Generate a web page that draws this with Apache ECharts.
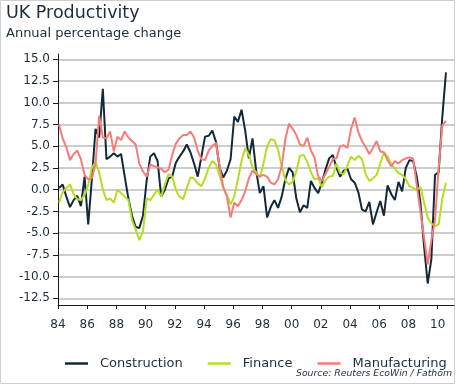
<!DOCTYPE html>
<html><head><meta charset="utf-8">
<script src="https://cdn.jsdelivr.net/npm/echarts@6/dist/echarts.min.js"></script>
<style>html,body{margin:0;padding:0;background:#fff}#c{width:459px;height:384px}</style>
</head><body><div id="c"></div>
<script>
// Quarterly observations, first point early 1984
const firstPointYear = 1984.07;
const pointStep = 0.25;

const construction = [
  0.2,0.6,-0.8,-2.0,-1.2,-0.7,-1.9,1.5,-4.0,1.2,
  7.0,6.0,11.6,3.5,3.8,4.2,3.8,4.1,1.5,-1.0,
  -3.0,-4.3,-4.4,-3.0,1.0,3.8,4.2,3.3,-0.8,0.0,
  1.3,1.5,3.1,3.8,4.4,5.2,4.3,3.0,1.5,3.8,
  6.1,6.2,6.8,5.5,2.5,1.4,2.2,3.5,8.4,7.8,
  9.2,6.8,3.6,5.9,2.2,-0.4,0.4,-3.2,-2.0,-1.2,
  -2.1,-0.8,1.2,2.5,2.0,-1.0,-2.6,-1.8,-2.1,1.0,
  0.2,-0.4,0.8,2.3,3.6,4.0,2.5,1.5,2.2,2.4,
  1.2,0.8,-0.3,-2.3,-2.5,-1.4,-4.0,-2.6,-1.3,-3.0,
  0.5,-0.5,-1.2,0.9,-0.2,2.5,3.4,3.3,1.5,-1.5,
  -6.5,-10.8,-8.0,1.7,2.0,8.4,13.5
];
const finance = [
  -1.5,-0.3,0.2,0.6,-0.5,-1.1,-1.2,-0.6,0.5,2.5,
  3.2,2.0,0.0,-1.2,-1.0,-1.5,0.0,-0.4,-0.8,-1.2,
  -3.5,-4.6,-5.8,-4.8,-1.0,-1.2,-0.6,0.0,-0.8,0.6,
  1.8,1.5,0.0,-0.8,-1.1,0.2,1.4,1.3,0.7,0.4,
  1.3,2.5,3.3,2.9,1.6,0.2,-0.6,-1.7,-0.8,1.2,
  3.3,4.8,4.0,2.6,2.0,1.4,3.0,5.0,5.8,5.7,
  4.6,2.7,1.1,0.6,0.9,2.1,3.9,4.0,3.2,2.0,
  1.2,1.3,0.3,1.1,1.5,1.6,3.0,1.9,1.8,2.8,
  3.8,3.4,3.9,3.5,1.8,1.0,1.3,1.7,3.0,4.3,
  3.8,3.0,2.4,1.9,1.7,1.2,0.4,0.2,0.0,0.3,
  -1.5,-3.2,-3.9,-4.2,-4.0,-1.0,0.8
];
const manufacturing = [
  7.5,5.9,4.9,3.4,4.1,4.5,3.5,1.7,1.2,1.3,
  3.0,8.5,6.0,5.9,6.7,4.4,6.1,5.7,6.7,6.0,
  5.6,5.2,3.0,2.1,1.5,2.9,2.7,2.6,2.4,2.0,
  2.3,4.0,5.3,5.9,6.3,6.3,6.7,6.0,4.5,3.5,
  3.4,4.5,5.0,5.4,2.6,0.3,-0.8,-3.2,-1.5,-1.9,
  -1.2,-0.2,1.3,2.2,1.8,1.5,1.7,1.5,0.8,0.6,
  1.2,2.7,5.8,7.6,7.0,6.3,5.2,5.0,6.0,4.5,
  3.7,1.5,1.0,1.8,2.6,3.5,3.6,5.0,5.1,4.8,
  7.0,8.3,6.6,5.6,4.9,4.1,4.8,5.6,4.4,4.3,
  3.4,2.7,3.3,3.0,3.4,3.6,3.7,3.6,0.5,-2.5,
  -5.5,-8.6,-5.8,-3.5,2.5,7.4,7.9
];

const seriesNames = ['Construction','Finance','Manufacturing'];
const xTickYears = [1984,1986,1988,1990,1992,1994,1996,1998,2000,2002,2004,2006,2008,2010];
const xTickLabels = ['84','86','88','90','92','94','96','98','00','02','04','06','08','10'];
const yMin = -12.5, yMax = 15, yStep = 2.5;

const textColor = '#1d2c3a';
const axisColor = '#1a1a1a';
const font = 'DejaVu Sans';

function pairs(values){ return values.map((v,i)=>[firstPointYear + i*pointStep, v]); }
function xLabel(v){
  const n = Number(v);
  let best = 0;
  for (let i=1;i<xTickYears.length;i++) if (Math.abs(xTickYears[i]-n) < Math.abs(xTickYears[best]-n)) best = i;
  return xTickLabels[best];
}

const chart = echarts.init(document.getElementById('c'), null, {renderer:'canvas'});
chart.setOption({
  animation:false,
  backgroundColor:'#fff',
  textStyle:{fontFamily:font},
  title:[
    {text:'UK Productivity', left:6, top:4, padding:0,
     textStyle:{fontFamily:font,fontSize:17.5,fontWeight:'normal',color:textColor}},
    {text:'Annual percentage change', left:6, top:27, padding:0,
     textStyle:{fontFamily:font,fontSize:13,fontWeight:'normal',color:textColor}},
    {text:'Source: Reuters EcoWin / Fathom', right:7, top:369, padding:0,
     textStyle:{fontFamily:font,fontSize:9.3,fontStyle:'italic',fontWeight:'normal',color:textColor}}
  ],
  graphic:[{type:'rect', z:-1, silent:true,
    shape:{x:0.5,y:0.5,width:454,height:383},
    style:{fill:'none',stroke:'#cfcfcf',lineWidth:1}}],
  legend:{
    left:60, top:352, itemWidth:23, itemHeight:2.5, itemGap:25, icon:'rect',
    data:seriesNames,
    textStyle:{fontFamily:font,fontSize:13,color:textColor,padding:[0,0,0,7]}
  },
  grid:[
    {left:58, right:5, top:59.3, bottom:85.7, containLabel:false},
    {left:58, right:5, top:54, bottom:79, containLabel:false}
  ],
  xAxis:[
    {gridIndex:0, type:'value', min:1984, max:2011.12, show:false},
    {gridIndex:1, type:'value', min:1984, max:2011.12,
     axisLine:{show:true,lineStyle:{color:axisColor,width:1}},
     axisTick:{show:true,length:4,lineStyle:{color:axisColor},customValues:xTickYears},
     axisLabel:{customValues:xTickYears,margin:14,fontFamily:font,fontSize:12,color:textColor,
       formatter:xLabel},
     splitLine:{show:false}}
  ],
  yAxis:[
    {gridIndex:0, type:'value', min:yMin, max:yMax, interval:yStep,
     axisLine:{show:false},
     axisTick:{show:true,length:5,lineStyle:{color:axisColor}},
     axisLabel:{margin:8,fontFamily:font,fontSize:12,color:textColor,
       formatter:v=>Number(v).toFixed(1)},
     splitLine:{show:true,lineStyle:{color:'#bdbdbd',width:1.5}}},
    {gridIndex:1, type:'value', min:0, max:1,
     axisLine:{show:true,lineStyle:{color:axisColor,width:1}},
     axisTick:{show:false}, axisLabel:{show:false}, splitLine:{show:false}}
  ],
  series:[
    {name:'Construction',type:'line',xAxisIndex:0,yAxisIndex:0,data:pairs(construction),symbol:'none',
     color:'#13293a',lineStyle:{width:2,color:'#13293a'},clip:false},
    {name:'Finance',type:'line',xAxisIndex:0,yAxisIndex:0,data:pairs(finance),symbol:'none',
     color:'#b3df1f',lineStyle:{width:2,color:'#b3df1f'},clip:false},
    {name:'Manufacturing',type:'line',xAxisIndex:0,yAxisIndex:0,data:pairs(manufacturing),symbol:'none',
     color:'#f77c78',lineStyle:{width:2,color:'#f77c78'},clip:false}
  ]
});
</script></body></html>
